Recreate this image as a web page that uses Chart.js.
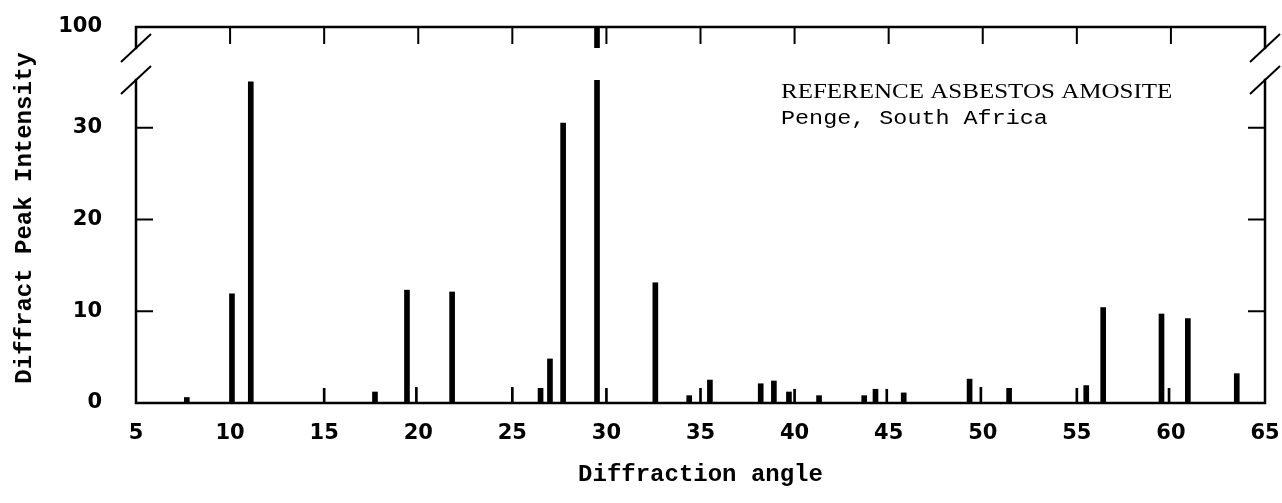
<!DOCTYPE html>
<html>

<head>
    <title>Amosite diffraction peaks</title>
    <script src="https://cdn.jsdelivr.net/npm/chart.js@4.4.1/dist/chart.umd.min.js"></script>
    <style>
        body { margin: 0; background: #fff; }
    </style>
    <script>
        // peak positions (2-theta, degrees) and relative intensities
        var angles = [7.7, 10.1, 11.1, 15.0, 17.7, 19.4, 19.9, 21.8, 25.0, 26.5, 27.0, 27.7, 29.5, 30.0,
            32.6, 34.4, 35.0, 35.5, 38.2, 38.9, 39.7, 40.0, 41.3, 43.7, 44.3, 44.9, 45.8, 49.3, 49.9,
            51.4, 55.0, 55.5, 56.4, 59.5, 59.9, 60.9, 63.5];
        var intensity = [0.6, 11.9, 35, 1.6, 1.2, 12.3, 1.7, 12.1, 1.7, 1.6, 4.8, 30.5, 100, 1.6,
            13.1, 0.8, 1.6, 2.5, 2.1, 2.4, 1.2, 1.5, 0.8, 0.8, 1.5, 1.5, 1.1, 2.6, 1.7,
            1.6, 1.6, 1.9, 10.4, 9.7, 1.6, 9.2, 3.2];
        // lines drawn as hairlines instead of full bars
        var narrowLines = [15.0, 19.9, 25.0, 30.0, 35.0, 40.0, 44.9, 49.9, 55.0, 59.9];

        var yTickValues = [0, 10, 20, 30];
        var topTickValues = [100];
        var sampleName = 'REFERENCE ASBESTOS AMOSITE';
        var sampleSite = 'Penge, South Africa';
        var xTitle = 'Diffraction angle';
        var yTitle = 'Diffract Peak Intensity';

        var tickFont = { family: 'DejaVu Sans', weight: 'bold', size: 21 };

        function peaks(wide) {
            return angles.map(function (a, i) { return { x: a, y: intensity[i] }; })
                .filter(function (p) { return (narrowLines.indexOf(p.x) < 0) === wide; });
        }

        function peakSet(axis, wide) {
            return {
                data: peaks(wide),
                yAxisID: axis,
                backgroundColor: '#000',
                borderWidth: 0,
                grouped: false,
                barPercentage: 1,
                categoryPercentage: 1,
                maxBarThickness: wide ? 5 : 2
            };
        }

        // keep each dataset inside its own panel of the broken axis
        var clipToPanel = {
            id: 'clipToPanel',
            beforeDatasetDraw: function (chart, args) {
                var s = chart.scales[args.meta.yAxisID];
                var a = chart.chartArea;
                chart.ctx.save();
                chart.ctx.beginPath();
                chart.ctx.rect(a.left, s.top, a.right - a.left, s.bottom - s.top);
                chart.ctx.clip();
            },
            afterDatasetDraw: function (chart) {
                chart.ctx.restore();
            }
        };

        // text squeezed vertically like the plotter lettering
        function wideText(ctx, text, x, y, stretch) {
            ctx.save();
            ctx.translate(x, y);
            ctx.scale(stretch, 1);
            ctx.fillText(text, 0, 0);
            ctx.restore();
        }

        // frame, inward ticks, break marks and the text block
        var frame = {
            id: 'frame',
            afterDatasetsDraw: function (chart) {
                var ctx = chart.ctx;
                var x = chart.scales.x, lo = chart.scales.y, hi = chart.scales.yTop;
                var L = chart.chartArea.left, R = chart.chartArea.right;
                ctx.save();
                ctx.strokeStyle = '#000';
                ctx.lineCap = 'square';
                ctx.lineWidth = 2.5;
                ctx.beginPath();
                // lower panel
                ctx.moveTo(L, lo.top); ctx.lineTo(L, lo.bottom); ctx.lineTo(R, lo.bottom); ctx.lineTo(R, lo.top);
                // upper panel
                ctx.moveTo(L, hi.bottom); ctx.lineTo(L, hi.top); ctx.lineTo(R, hi.top); ctx.lineTo(R, hi.bottom);
                ctx.stroke();

                ctx.lineWidth = 2;
                ctx.lineCap = 'butt';
                ctx.beginPath();
                x.ticks.forEach(function (t) {
                    var px = x.getPixelForValue(t.value);
                    ctx.moveTo(px, hi.top); ctx.lineTo(px, hi.top + 17);
                });
                lo.ticks.forEach(function (t) {
                    if (t.value === 0) return;
                    var py = lo.getPixelForValue(t.value);
                    ctx.moveTo(L, py); ctx.lineTo(L + 17, py);
                    ctx.moveTo(R, py); ctx.lineTo(R - 17, py);
                });
                [hi.bottom, lo.top].forEach(function (py) {
                    [L, R].forEach(function (px) {
                        ctx.moveTo(px - 15, py + 14); ctx.lineTo(px + 15, py - 14);
                    });
                });
                ctx.stroke();

                ctx.fillStyle = '#000';
                ctx.textBaseline = 'middle';
                ctx.textAlign = 'left';
                ctx.font = '20px "Liberation Serif"';
                wideText(ctx, sampleName, 781, 93, 1.25);
                ctx.font = '20px "Liberation Mono"';
                wideText(ctx, sampleSite, 781, 119, 1.17);

                ctx.translate(25, 218);
                ctx.rotate(-Math.PI / 2);
                ctx.textAlign = 'center';
                ctx.font = 'bold 24px "Liberation Mono"';
                ctx.fillText(yTitle, 0, 0);
                ctx.restore();
            }
        };

        function leftBox(scale) {
            scale.width = 136;
            scale.paddingTop = 0;
            scale.paddingBottom = 0;
        }

        window.addEventListener('load', function () {
            Chart.defaults.color = '#000';
            new Chart(document.getElementById('peaks').getContext('2d'), {
                type: 'bar',
                data: {
                    datasets: [peakSet('y', true), peakSet('y', false), peakSet('yTop', true), peakSet('yTop', false)]
                },
                options: {
                    responsive: false,
                    animation: false,
                    layout: { padding: { top: 27, right: 17, bottom: 0, left: 0 } },
                    plugins: { legend: { display: false }, tooltip: { enabled: false } },
                    scales: {
                        x: {
                            type: 'linear',
                            position: 'bottom',
                            offset: false,
                            min: 5,
                            max: 65,
                            grid: { display: false },
                            border: { display: false },
                            ticks: { stepSize: 5, padding: 10, font: tickFont, maxRotation: 0 },
                            title: {
                                display: true,
                                text: xTitle,
                                font: { family: 'Liberation Mono', weight: 'bold', size: 24 },
                                padding: { top: 0, bottom: 14 }
                            },
                            afterFit: function (scale) {
                                scale.height = 100;
                                scale.paddingLeft = 0;
                                scale.paddingRight = 0;
                            }
                        },
                        y: {
                            type: 'linear',
                            position: 'left',
                            stack: 'intensity',
                            stackWeight: 323,
                            min: 0,
                            max: 35.2,
                            grid: { display: false },
                            border: { display: false },
                            ticks: { padding: 26, font: tickFont },
                            afterBuildTicks: function (scale) {
                                scale.ticks = yTickValues.map(function (v) { return { value: v }; });
                            },
                            afterFit: leftBox
                        },
                        yGap: {
                            type: 'linear',
                            position: 'left',
                            stack: 'intensity',
                            stackWeight: 32,
                            display: false,
                            afterFit: leftBox
                        },
                        yTop: {
                            type: 'linear',
                            position: 'left',
                            stack: 'intensity',
                            stackWeight: 21,
                            min: 90,
                            max: 100,
                            grid: { display: false },
                            border: { display: false },
                            ticks: { padding: 26, font: tickFont },
                            afterBuildTicks: function (scale) {
                                scale.ticks = topTickValues.map(function (v) { return { value: v }; });
                            },
                            afterFit: leftBox
                        }
                    }
                },
                plugins: [clipToPanel, frame]
            });
        });
    </script>
</head>

<body>
    <canvas id="peaks" width="1282" height="503"></canvas>
</body>

</html>
